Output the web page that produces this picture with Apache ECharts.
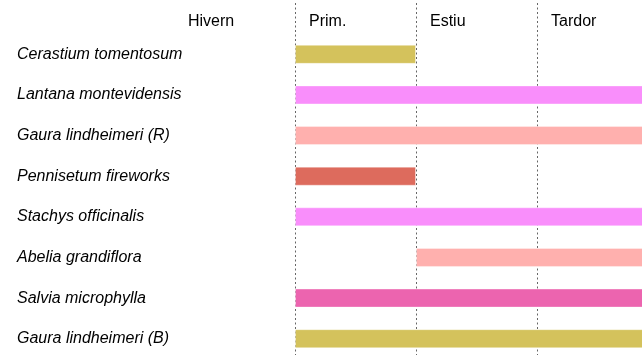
<!DOCTYPE html>
<html>
<head>
<meta charset="utf-8">
<script src="https://cdn.jsdelivr.net/npm/echarts@6/dist/echarts.min.js"></script>
<style>
  html, body { margin: 0; padding: 0; background: #fff; }
  #chart { width: 642px; height: 355px; }
</style>
</head>
<body>
<div id="chart"></div>
<script>
// estacions (eix x): 0 = inici Hivern, 4 = final Tardor
var seasons = ['Hivern', 'Prim.', 'Estiu', 'Tardor'];
var plants = [
  'Cerastium tomentosum',
  'Lantana montevidensis',
  'Gaura lindheimeri (R)',
  'Pennisetum fireworks',
  'Stachys officinalis',
  'Abelia grandiflora',
  'Salvia microphylla',
  'Gaura lindheimeri (B)'
];
// floració: inici i final (en estacions)
var bloomStart = [1, 1, 1, 1, 1, 2, 1, 1];
var bloomEnd   = [2, 4, 4, 2, 4, 4, 4, 4];
var barColors = ['#d4c25c', '#f98efb', '#ffb0ae', '#dd6b5d', '#f98efb', '#ffb0ae', '#ec64af', '#d4c25c'];

var chart = echarts.init(document.getElementById('chart'));

var offsetData = bloomStart.slice();
var lengthData = bloomEnd.map(function (e, i) {
  return {
    value: e - bloomStart[i],
    itemStyle: { color: barColors[i] }
  };
});

chart.setOption({
  animation: false,
  grid: [
    // barres
    { left: 174, width: 484, top: 34, height: 325, outerBoundsMode: 'none', containLabel: false },
    // línies de punts + noms d'estació
    { left: 174, width: 484, top: 3, height: 352, outerBoundsMode: 'none', containLabel: false }
  ],
  xAxis: [
    {
      gridIndex: 0, type: 'value', min: 0, max: 4, interval: 1,
      axisLine: { show: false }, axisTick: { show: false },
      axisLabel: { show: false }, splitLine: { show: false }
    },
    {
      gridIndex: 1, type: 'value', min: 0, max: 4, interval: 1,
      position: 'top',
      axisLine: { show: false }, axisTick: { show: false },
      axisLabel: {
        inside: true,
        margin: 11,
        align: 'left',
        padding: [0, 0, 0, 14],
        color: '#000',
        fontFamily: 'Liberation Sans, Arial, sans-serif',
        fontSize: 16,
        formatter: function (v) { return seasons[v] || ''; }
      },
      splitLine: {
        show: true,
        showMinLine: false,
        lineStyle: { color: '#666', type: [2, 2.5], width: 1 }
      }
    }
  ],
  yAxis: [
    {
      gridIndex: 0, type: 'category', data: plants, inverse: true,
      axisLine: { show: false }, axisTick: { show: false },
      axisLabel: {
        align: 'left',
        margin: 157,
        color: '#000',
        fontStyle: 'italic',
        fontFamily: 'Liberation Sans, Arial, sans-serif',
        fontSize: 16
      }
    },
    {
      gridIndex: 1, type: 'value', show: false
    }
  ],
  series: [
    {
      type: 'bar', xAxisIndex: 0, yAxisIndex: 0, stack: 'bloom',
      data: offsetData, barWidth: 19,
      itemStyle: { color: 'transparent' }, silent: true
    },
    {
      type: 'bar', xAxisIndex: 0, yAxisIndex: 0, stack: 'bloom',
      data: lengthData, barWidth: 19,
      itemStyle: { borderColor: 'rgba(255,255,255,0.35)', borderWidth: 1 }
    }
  ]
});
</script>
</body>
</html>
